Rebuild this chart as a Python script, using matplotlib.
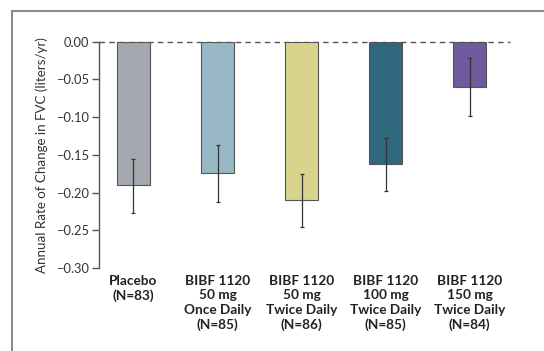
import matplotlib
matplotlib.use("Agg")
import matplotlib.pyplot as plt
from matplotlib.lines import Line2D

categories = ["Placebo\n(N=83)",
              "BIBF 1120\n50 mg\nOnce Daily\n(N=85)",
              "BIBF 1120\n50 mg\nTwice Daily\n(N=86)",
              "BIBF 1120\n100 mg\nTwice Daily\n(N=85)",
              "BIBF 1120\n150 mg\nTwice Daily\n(N=84)"]
values = [-0.190, -0.174, -0.210, -0.162, -0.060]
ci_low = [-0.227, -0.212, -0.246, -0.198, -0.099]
ci_high = [-0.155, -0.137, -0.175, -0.127, -0.021]
yticks = [0.00, -0.05, -0.10, -0.15, -0.20, -0.25, -0.30]
colors = ["#a4a9af", "#98b8c5", "#d8d48b", "#2f687c", "#6e5a9c"]

plt.rcParams['font.family'] = ['Lato', 'DejaVu Sans']

fig = plt.figure(figsize=(5.44, 3.51), dpi=100)
ax = fig.add_axes([99/544, 1-268/351, (510-99)/544, (268-41.7)/351])

x = list(range(len(values)))
ax.bar(x, values, width=0.4, color=colors, edgecolor="#555555", linewidth=0.8, zorder=2)
yerr = [[v - l for v, l in zip(values, ci_low)], [h - v for v, h in zip(values, ci_high)]]
ax.errorbar(x, values, yerr=yerr, fmt="none", ecolor="#333333", elinewidth=0.9,
            capsize=1.5, capthick=0.9, zorder=3)
ax.axhline(0, color="#555555", linestyle=(0, (4, 3)), linewidth=1.0, clip_on=False, zorder=1)

ax.set_xlim(-0.41, 4.48)
ax.set_ylim(-0.30, 0.0)
ax.set_yticks(yticks)
ax.set_yticklabels(["0.00" if t == 0 else "\u2212%.2f" % abs(t) for t in yticks], fontsize=9.3, color="#333333")
ax.set_xticks(x)
ax.set_xticklabels(categories, fontsize=9.8, fontweight="bold", color="#222222", linespacing=1.25)
ax.tick_params(axis="x", length=0, pad=5)
ax.tick_params(axis="y", length=5, width=1, color="#555555", pad=2)
for s in ["top", "right", "bottom"]:
    ax.spines[s].set_visible(False)
ax.spines["left"].set_color("#555555")
ax.spines["left"].set_linewidth(1.0)
ax.set_ylabel("Annual Rate of Change in FVC (liters/yr)", fontsize=9.6, color="#333333", labelpad=6)

fig.add_artist(Line2D([12/544, 1.0], [1-11/351, 1-11/351], transform=fig.transFigure, color="#8c8c8c", linewidth=1.5))
fig.add_artist(Line2D([12/544, 12/544], [1-11/351, 0.0], transform=fig.transFigure, color="#8c8c8c", linewidth=1.5))

fig.savefig("out.png", dpi=100)
